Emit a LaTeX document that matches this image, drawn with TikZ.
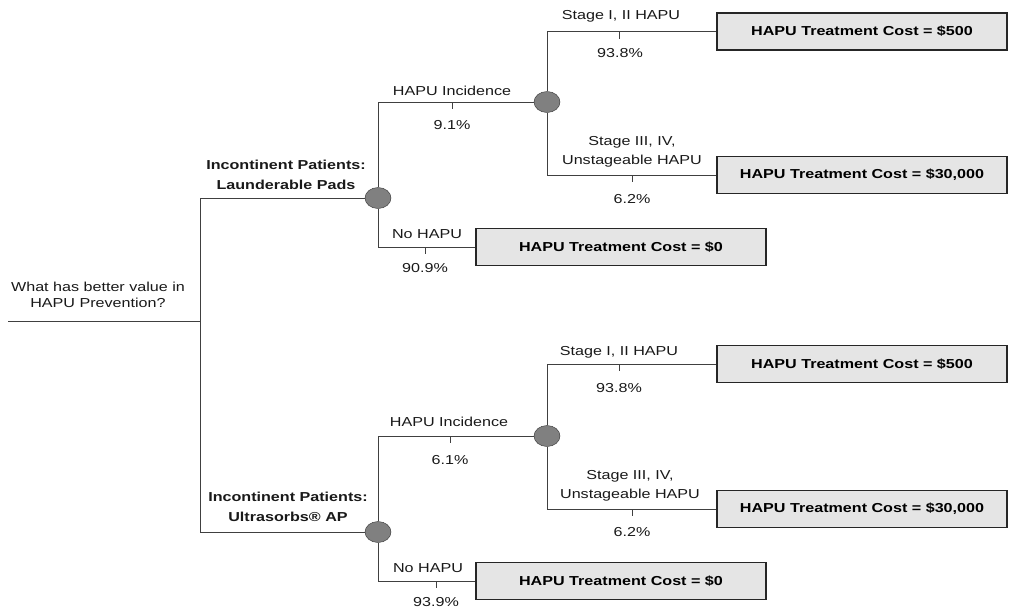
\documentclass[tikz,border=0pt]{standalone}
\usepackage{fontspec}
\setmainfont{Liberation Sans}[FakeStretch=1.24]
\usetikzlibrary{shapes.geometric}
\tikzset{
  chance/.style={ellipse, draw=black!80, fill=black!50, minimum width=26pt, minimum height=21pt, inner sep=0pt},
  payoff/.style={draw=black!85, line width=1.2pt, fill=black!10, minimum width=290pt, minimum height=37pt, inner sep=0pt, font=\fontsize{13}{19}\selectfont\bfseries},
  branch/.style={draw=black!75, line width=0.9pt},
  lbl/.style={inner sep=0pt, align=center, text=black!90},
}

\begin{document}
\begin{tikzpicture}[x=1pt, y=-1pt, font=\fontsize{13}{19}\selectfont]
\useasboundingbox (0,0) rectangle (1011,611);

% question at the root
\node[lbl, font=\fontsize{13}{16}\selectfont] (root) at (98,295) {What has better value in\\HAPU Prevention?};
\coordinate (start) at (8,321);
\coordinate (split) at (200,321);

% chance nodes
\node[chance] (c1) at (378,198) {};
\node[chance] (c2) at (547,102) {};
\node[chance] (c3) at (378,532) {};
\node[chance] (c4) at (547,436) {};

% end nodes
\node[payoff] (b1) at (862,31.5) {HAPU Treatment Cost = \$500};
\node[payoff] (b2) at (862,175) {HAPU Treatment Cost = \$30,000};
\node[payoff] (b3) at (621,247) {HAPU Treatment Cost = \$0};
\node[payoff] (b4) at (862,364) {HAPU Treatment Cost = \$500};
\node[payoff] (b5) at (862,509) {HAPU Treatment Cost = \$30,000};
\node[payoff] (b6) at (621,581) {HAPU Treatment Cost = \$0};

% branches
\draw[branch] (start) -- (split);
\draw[branch] (split) |- (c1);
\draw[branch] (split) |- (c3);
\draw[branch] (c1) |- (c2);
\draw[branch] (c1) |- (b3);
\draw[branch] (c2) |- (b1);
\draw[branch] (c2) |- (b2);
\draw[branch] (c3) |- (c4);
\draw[branch] (c3) |- (b6);
\draw[branch] (c4) |- (b4);
\draw[branch] (c4) |- (b5);

\foreach \tx/\ty in {452/102, 619/31.5, 632/175, 425/247, 450/436, 619/364, 632/509, 436/581}{
	\draw[branch] (\tx,\ty) -- ++(0,7);
	}

% branch labels
\node[lbl, font=\fontsize{13}{20}\selectfont\bfseries] (pads) at (286,175) {Incontinent Patients:\\Launderable Pads};
\node[lbl, font=\fontsize{13}{20}\selectfont\bfseries] (ultra) at (288,507) {Incontinent Patients:\\Ultrasorbs® AP};

\node[lbl] (inc1) at (452,91) {HAPU Incidence};
\node[lbl] (pinc1) at (452,125) {9.1\%};
\node[lbl] (st1) at (621,16) {Stage I, II HAPU};
\node[lbl] (pst1) at (620,53) {93.8\%};
\node[lbl] (st3) at (632,152) {Stage III, IV,\\Unstageable HAPU};
\node[lbl] (pst3) at (632,199) {6.2\%};
\node[lbl] (no1) at (427,234) {No HAPU};
\node[lbl] (pno1) at (425,268) {90.9\%};

\node[lbl] (inc2) at (449,422) {HAPU Incidence};
\node[lbl] (pinc2) at (450,460) {6.1\%};
\node[lbl] (st2) at (619,352) {Stage I, II HAPU};
\node[lbl] (pst2) at (619,388) {93.8\%};
\node[lbl] (st4) at (630,486) {Stage III, IV,\\Unstageable HAPU};
\node[lbl] (pst4) at (632,532) {6.2\%};
\node[lbl] (no2) at (428,568) {No HAPU};
\node[lbl] (pno2) at (436,602) {93.9\%};
\end{tikzpicture}
\end{document}
